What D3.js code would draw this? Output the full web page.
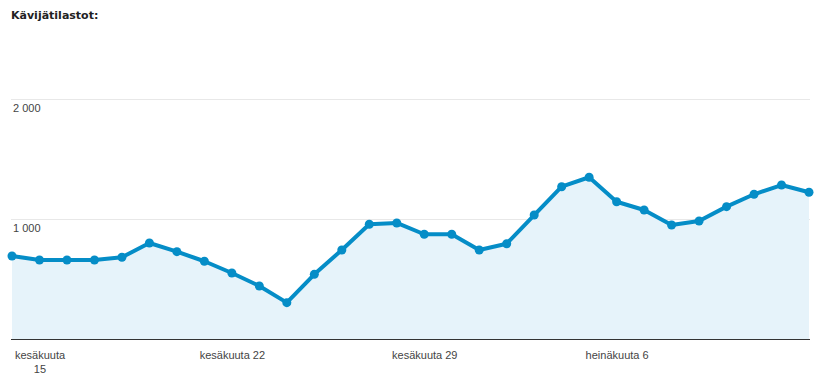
<!DOCTYPE html>
<html>
<head>
<meta charset="utf-8">
<script src="https://cdn.jsdelivr.net/npm/d3@7"></script>
<style>
body { margin: 0; background: #fff; }
svg text { font-family: "Liberation Sans", Arial, sans-serif; }
.title { font-family: "DejaVu Sans", sans-serif; font-weight: bold; font-size: 11px; fill: #222; }
.tick text { fill: #444; font-size: 11px; }
</style>
</head>
<body>
<div class="chart"></div>
<script>
var svgWidth = 819;
var svgHeight = 387;

// päivät 14.6. - 13.7.
var startDay = new Date(2014, 5, 14);
var visits = [692, 658, 658, 658, 681, 800, 728, 648, 550, 442,
              303, 539, 742, 956, 967, 873, 873, 742, 794, 1033,
              1269, 1348, 1144, 1075, 950, 983, 1103, 1206, 1283, 1223];
var tickDays = [new Date(2014, 5, 15), new Date(2014, 5, 22), new Date(2014, 5, 29), new Date(2014, 6, 6)];
var tickLabels = ["kesäkuuta 15", "kesäkuuta 22", "kesäkuuta 29", "heinäkuuta 6"];
var yTicks = [1000, 2000];

var data = visits.map(function(v, i) {
    return { date: d3.timeDay.offset(startDay, i), value: v };
});

var plotLeft = 11, plotRight = 810, plotTop = 99, plotBottom = 339;

var svg = d3.select(".chart")
    .append("svg")
    .attr("width", svgWidth)
    .attr("height", svgHeight);

svg.append("text")
    .attr("class", "title")
    .attr("x", 11)
    .attr("y", 19)
    .text("Kävijätilastot:");

var xScale = d3.scaleTime()
    .domain([data[0].date, data[data.length - 1].date])
    .range([12, 809]);

var yScale = d3.scaleLinear()
    .domain([0, 2000])
    .range([plotBottom, plotTop]);

// ruudukko
var grid = svg.append("g")
    .attr("transform", "translate(" + plotLeft + ",0)")
    .call(d3.axisRight(yScale).tickValues(yTicks).tickSize(plotRight - plotLeft).tickFormat(""));
grid.select(".domain").remove();
grid.selectAll(".tick line").attr("stroke", "#e8e8e8");

var area = d3.area()
    .x(function(d) { return xScale(d.date); })
    .y0(plotBottom)
    .y1(function(d) { return yScale(d.value); });

var line = d3.line()
    .x(function(d) { return xScale(d.date); })
    .y(function(d) { return yScale(d.value); });

svg.append("path")
    .datum(data)
    .attr("fill", "#e6f3fa")
    .attr("d", area);

// y-akselin tekstit
svg.selectAll(".ylabel")
    .data(yTicks)
    .enter().append("text")
    .attr("class", "ylabel")
    .attr("x", 13)
    .attr("y", function(d) { return yScale(d) + 13; })
    .attr("font-size", "11px")
    .attr("fill", "#444")
    .text(function(d) { return d3.format(",")(d).replace(",", " "); });

svg.append("path")
    .datum(data)
    .attr("fill", "none")
    .attr("stroke", "#058dc7")
    .attr("stroke-width", 4)
    .attr("stroke-linejoin", "round")
    .attr("d", line);

svg.selectAll("circle")
    .data(data)
    .enter().append("circle")
    .attr("cx", function(d) { return xScale(d.date); })
    .attr("cy", function(d) { return yScale(d.value); })
    .attr("r", 4.5)
    .attr("fill", "#058dc7");

var xAxis = svg.append("g")
    .attr("transform", "translate(0," + plotBottom + ")")
    .call(d3.axisBottom(xScale).tickValues(tickDays).tickSize(0).tickPadding(12)
        .tickFormat(function(d, i) { return tickLabels[i]; }));
xAxis.select(".domain").remove();
xAxis.append("line")
    .attr("x1", plotLeft).attr("x2", plotRight)
    .attr("y1", 0.5).attr("y2", 0.5)
    .attr("stroke", "#333");

// ensimmäinen teksti kahdelle riville
xAxis.selectAll(".tick text").filter(function(d, i) { return i === 0; })
    .each(function() {
        var t = d3.select(this);
        var parts = t.text().split(" ");
        t.text("");
        t.append("tspan").attr("x", 0).attr("dy", "0.71em").text(parts[0]);
        t.append("tspan").attr("x", 0).attr("dy", "1.25em").text(parts[1]);
        t.attr("dy", null);
    });
</script>
</body>
</html>
